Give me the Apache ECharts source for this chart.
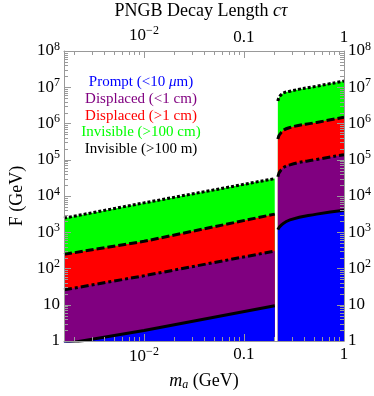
<!DOCTYPE html>
<html>
<head>
<meta charset="utf-8">
<script src="https://cdn.jsdelivr.net/npm/echarts@6/dist/echarts.min.js"></script>
<style>
html, body { margin: 0; padding: 0; background: #fff; }
#chart { width: 374px; height: 396px; }
</style>
</head>
<body>
<div id="chart"></div>
<script>
// m_a (GeV), below and above the muon threshold
const massLow = [0.001585, 0.01, 0.203];
const massHigh = [0.218, 0.2366, 0.288, 0.533, 1];

// F (GeV) on each boundary, below threshold
const invisibleLow = [2450, 6460, 30200];     // dotted
const displacedFarLow = [245, 562, 3160];     // dashed
const displacedNearLow = [25.7, 63, 302];     // dash-dot
const promptLow = [0.83, 1.95, 9.44];         // solid
// above threshold
const invisibleHigh = [4.17e6, 6.31e6, 7.76e6, 1.07e7, 1.48e7];
const displacedFarHigh = [3.72e5, 5.75e5, 7.76e5, 1.07e6, 1.48e6];
const displacedNearHigh = [3.39e4, 5.37e4, 7.24e4, 1.02e5, 1.38e5];
const promptHigh = [1175, 1585, 2188, 3162, 4074];

const legendLabels = [
    '{n|Prompt (<10 }{i|μ}{n|m)}',
    'Displaced (<1 cm)',
    'Displaced (>1 cm)',
    'Invisible (>100 cm)',
    'Invisible (>100 m)'
];
const legendColors = ['#0000ff', '#800080', '#ff0000', '#00ff00', '#000000'];

const xMin = massLow[0], xMax = 1;
const yMin = 1, yMax = 1e8;
const SERIF = '"Liberation Serif", "DejaVu Serif", serif';
const AXIS_GRAY = '#999';

// minor tick positions (2..9 x 10^k)
const yMinor = [];
for (let k = 0; k < 8; k++) for (let d = 2; d <= 9; d++) yMinor.push([xMin, d * Math.pow(10, k)]);
const xMinor = [];
for (let k = -3; k < 0; k++) for (let d = 2; d <= 9; d++) {
    const v = d * Math.pow(10, k);
    if (v > xMin && v < xMax) xMinor.push([v, yMin]);
}

function powLabel(v) {
    const e = Math.round(Math.log10(v));
    if (e === 0) return '{b|1}';
    if (e === 1) return '{b|10}';
    if (e === -1) return '{b|0.1}';
    return '{b|10}{s|' + (e < 0 ? '\u2212' + (-e) : e) + '}';
}

const labelRich = {
    b: { fontFamily: SERIF, fontSize: 17, color: '#000' },
    s: { fontFamily: SERIF, fontSize: 12, color: '#000', padding: [0, 0, 9, 0] }
};

function pairs(xs, ys) {
    return xs.map(function (x, i) { return [x, ys[i]]; });
}

function band(name, xs, ys, fill, dash, smooth) {
    return {
        name: name,
        type: 'line',
        data: pairs(xs, ys),
        showSymbol: false,
        smooth: smooth,
        lineStyle: { color: '#000', width: 3, type: dash, cap: 'butt' },
        areaStyle: { color: fill, opacity: 1, origin: 'start' },
        silent: true,
        z: 2
    };
}

function xAxisCfg(pos) {
    return {
        type: 'log',
        logBase: 10,
        position: pos,
        min: xMin,
        max: xMax,
        z: 5,
        axisLine: { show: true, lineStyle: { color: AXIS_GRAY, width: 1 } },
        axisTick: { show: true, inside: true, length: 7, lineStyle: { color: AXIS_GRAY } },
        splitLine: { show: false },
        axisLabel: {
            showMinLabel: false,
            margin: 5,
            formatter: powLabel,
            rich: labelRich
        }
    };
}

function yAxisCfg(pos) {
    return {
        type: 'log',
        logBase: 10,
        position: pos,
        min: yMin,
        max: yMax,
        interval: 1,
        z: 5,
        axisLine: { show: true, lineStyle: { color: AXIS_GRAY, width: 1 } },
        axisTick: { show: true, inside: true, length: 7, lineStyle: { color: AXIS_GRAY } },
        splitLine: { show: false },
        axisLabel: {
            margin: 4,
            formatter: powLabel,
            rich: labelRich
        }
    };
}

function tickLine(x1, y1, x2, y2) {
    return {
        type: 'line',
        shape: { x1: x1, y1: y1, x2: x2, y2: y2 },
        style: { stroke: AXIS_GRAY, lineWidth: 1 },
        z2: 100
    };
}

const chart = echarts.init(document.getElementById('chart'));

const xBottom = xAxisCfg('bottom');
xBottom.name = '{i|m}{sub|a}{n| (GeV)}';
xBottom.nameLocation = 'middle';
xBottom.nameGap = 30;
xBottom.nameTextStyle = {
    rich: {
        i: { fontFamily: SERIF, fontSize: 18, fontStyle: 'italic', color: '#000' },
        sub: { fontFamily: SERIF, fontSize: 12, fontStyle: 'italic', color: '#000', padding: [8, 0, 0, 0] },
        n: { fontFamily: SERIF, fontSize: 18, color: '#000' }
    }
};

const yLeft = yAxisCfg('left');
yLeft.name = 'F (GeV)';
yLeft.nameLocation = 'middle';
yLeft.nameGap = 38;
yLeft.nameTextStyle = { fontFamily: SERIF, fontSize: 18, color: '#000' };

const option = {
    animation: false,
    backgroundColor: '#fff',
    grid: { left: 53, right: 28, top: 51, bottom: 52 },
    xAxis: [xBottom, xAxisCfg('top')],
    yAxis: [yLeft, yAxisCfg('right')],
    graphic: [
        {
            type: 'text', x: 201, y: 11, silent: true,
            style: {
                text: '{n|PNGB Decay Length }{i|c\u03c4}',
                textAlign: 'center', textVerticalAlign: 'middle',
                rich: {
                    n: { fontFamily: SERIF, fontSize: 18, fill: '#000' },
                    i: { fontFamily: SERIF, fontSize: 18, fontStyle: 'italic', fill: '#000' }
                }
            }
        }
    ].concat(legendLabels.map(function (t, i) {
        return {
            type: 'text', x: 141, y: 82 + i * 16.8, silent: true, z: 10,
            style: {
                text: t,
                fill: legendColors[i],
                font: '15px ' + SERIF,
                textAlign: 'center', textVerticalAlign: 'middle',
                rich: {
                    n: { fontFamily: SERIF, fontSize: 15, fill: legendColors[i] },
                    i: { fontFamily: SERIF, fontSize: 15, fontStyle: 'italic', fill: legendColors[i] }
                }
            }
        };
    })),
    series: [
        band('Invisible', massLow, invisibleLow, '#00ff00', [3, 2], false),
        band('Displaced far', massLow, displacedFarLow, '#ff0000', [8, 3], false),
        band('Displaced near', massLow, displacedNearLow, '#800080', [8, 3, 3, 3], false),
        band('Prompt', massLow, promptLow, '#0000ff', 'solid', false),
        band('Invisible', massHigh, invisibleHigh, '#00ff00', [3, 2], true),
        band('Displaced far', massHigh, displacedFarHigh, '#ff0000', [8, 3], true),
        band('Displaced near', massHigh, displacedNearHigh, '#800080', [8, 3, 3, 3], true),
        band('Prompt', massHigh, promptHigh, '#0000ff', 'solid', true),
        {
            // minor ticks on left and right edges
            type: 'custom',
            silent: true,
            clip: false,
            z: 6,
            data: yMinor,
            renderItem: function (params, api) {
                const p = api.coord([api.value(0), api.value(1)]);
                const cs = params.coordSys;
                const y = Math.round(p[1]) + 0.5;
                return {
                    type: 'group',
                    children: [
                        tickLine(cs.x, y, cs.x + 4, y),
                        tickLine(cs.x + cs.width - 4, y, cs.x + cs.width, y)
                    ]
                };
            }
        },
        {
            // minor ticks on bottom and top edges
            type: 'custom',
            silent: true,
            clip: false,
            z: 6,
            data: xMinor,
            renderItem: function (params, api) {
                const p = api.coord([api.value(0), api.value(1)]);
                const cs = params.coordSys;
                const x = Math.round(p[0]) + 0.5;
                return {
                    type: 'group',
                    children: [
                        tickLine(x, cs.y + cs.height, x, cs.y + cs.height - 4),
                        tickLine(x, cs.y, x, cs.y + 4)
                    ]
                };
            }
        }
    ]
};

chart.setOption(option);
window.addEventListener('resize', function () { chart.resize(); });
</script>
</body>
</html>
